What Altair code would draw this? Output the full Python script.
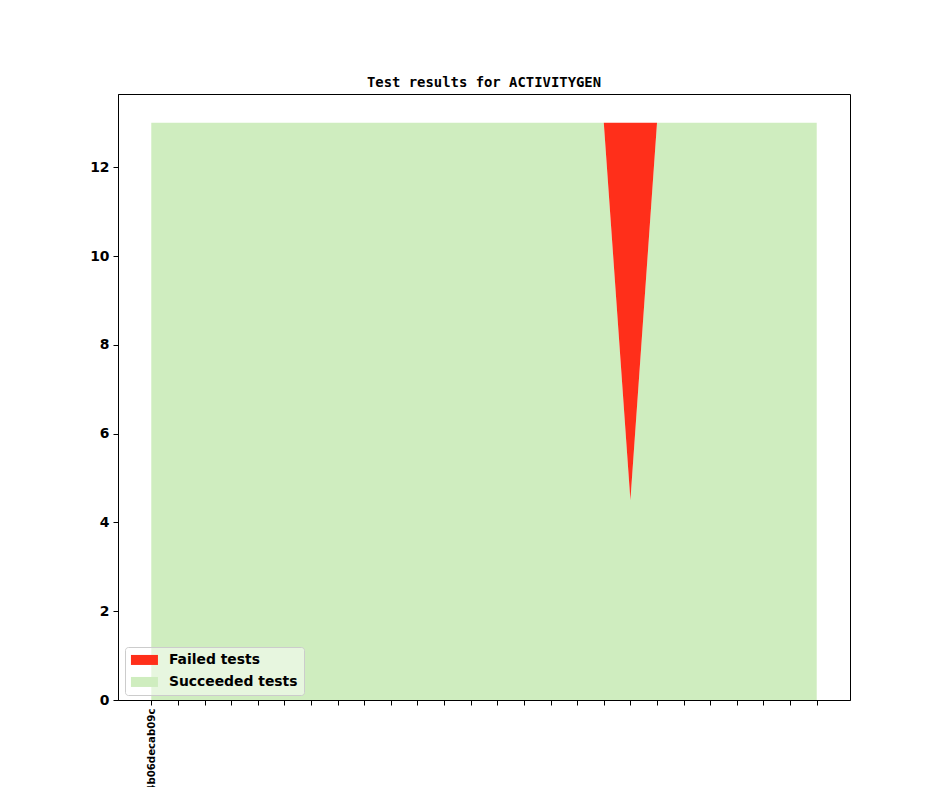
import json
import altair as alt
import pandas as pd

# x positions: 26 commits, only the first one labelled
tick_labels = ["e2a4b06decab09c", "", "", "", "", "", "", "", "", "", "", "", "",
               "", "", "", "", "", "", "", "", "", "", "", "", ""]
succeeded = [13, 13, 13, 13, 13, 13, 13, 13, 13, 13, 13, 13, 13,
             13, 13, 13, 13, 13, 4.5, 13, 13, 13, 13, 13, 13, 13]
failed = [0, 0, 0, 0, 0, 0, 0, 0, 0, 0, 0, 0, 0,
          0, 0, 0, 0, 0, 8.5, 0, 0, 0, 0, 0, 0, 0]
series_names = ["Failed tests", "Succeeded tests"]
series_colors = ["#ff2f1a", "#cfedbf"]

rows = []
for i, (s, f) in enumerate(zip(succeeded, failed)):
    rows.append({"idx": i, "series": "Succeeded tests", "y0": 0, "y1": s})
    rows.append({"idx": i, "series": "Failed tests", "y0": s, "y1": s + f})
df = pd.DataFrame(rows)

label_expr = json.dumps(tick_labels) + "[datum.value]"

chart = alt.Chart(df).mark_area(interpolate="linear").encode(
    x=alt.X("idx:Q",
            scale=alt.Scale(domain=[-1.25, 26.25], nice=False, zero=False),
            axis=alt.Axis(values=list(range(len(tick_labels))), labelExpr=label_expr,
                          labelAngle=-90, labelAlign="right", labelBaseline="middle",
                          title=None, grid=False, tickSize=5, tickColor="black",
                          domainColor="black", labelFont="DejaVu Sans",
                          labelFontWeight="bold", labelFontSize=10.2, labelColor="black",
                          labelPadding=3, labelOverlap=False)),
    y=alt.Y("y1:Q",
            scale=alt.Scale(domain=[0, 13.65], nice=False),
            axis=alt.Axis(values=[0, 2, 4, 6, 8, 10, 12], title=None, grid=False,
                          tickSize=5, tickColor="black", domainColor="black",
                          labelFont="DejaVu Sans", labelFontWeight="bold",
                          labelFontSize=13.9, labelColor="black", labelPadding=4)),
    y2="y0:Q",
    color=alt.Color("series:N",
                    scale=alt.Scale(domain=series_names, range=series_colors),
                    legend=alt.Legend(title=None, orient="none", legendX=7, legendY=553,
                                      symbolType="M-1.4,-1L4,-1L4,1L-1.4,1Z",
                                      symbolSize=100, symbolStrokeWidth=0,
                                      labelFont="DejaVu Sans", labelFontWeight="bold",
                                      labelFontSize=13.9, labelColor="black",
                                      labelOffset=24, rowPadding=7, padding=6,
                                      fillColor="rgba(255,255,255,0.5)",
                                      strokeColor="#cccccc", cornerRadius=3)),
).properties(
    width=732,
    height=606,
    title=alt.Title("Test results for ACTIVITYGEN", font="DejaVu Sans Mono",
                    fontWeight="bold", fontSize=13.9, color="black", offset=4),
    autosize=alt.AutoSizeParams(type="none"),
    padding={"left": 110, "top": 86, "right": 86, "bottom": 100},
).configure_view(stroke="black", strokeWidth=1)

chart.save("out.html", embed_options={"renderer": "svg", "actions": False})
